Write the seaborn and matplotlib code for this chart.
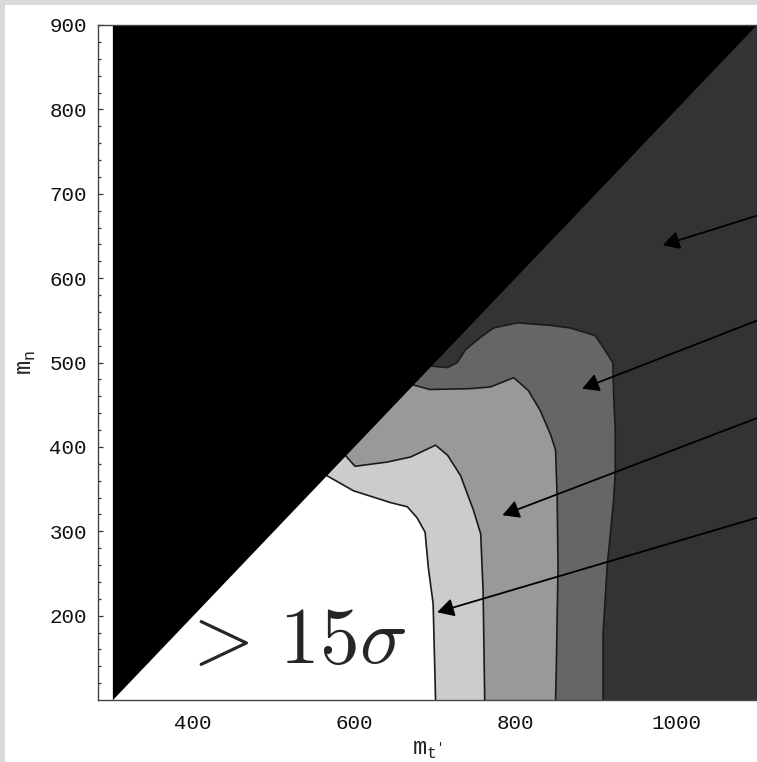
import matplotlib
matplotlib.use("Agg")
import matplotlib.pyplot as plt
import seaborn as sns
import pandas as pd
from matplotlib.patches import Rectangle

# ---- data ----
domain_x = [300, 1100]          # m_t' range of the scan
domain_y = [100, 900]           # m_n range of the scan

# contour boundaries (m_t', m_n), from the kinematic edge down to m_n = 100
c15_x = [564, 599, 645, 666, 678, 688, 692, 698, 701]          # 15 sigma
c15_y = [367, 348, 334, 329, 316, 299, 257, 214, 100]
c10_x = [588, 601, 641, 670, 701, 716, 732, 748, 757, 760, 762]  # next level
c10_y = [391, 377, 382, 388, 402, 390, 366, 325, 297, 230, 100]
c5_x = [671, 694, 744, 769, 798, 816, 831, 844, 850, 852, 853, 851, 850]
c5_y = [474, 468, 469, 471, 482, 467, 443, 414, 396, 337, 257, 143, 100]
c3_x = [693, 716, 728, 738, 757, 773, 803, 844, 868, 899, 909, 921, 922,
        924, 924, 922, 918, 914, 909, 909]
c3_y = [496, 494, 500, 515, 530, 541, 547, 544, 541, 532, 518, 500, 464,
        420, 369, 337, 297, 259, 179, 100]

region_colors = ["#333333", "#666666", "#999999", "#cccccc", "#ffffff"]

# arrows: (head x, head y, tail x, tail y)
arrow_head_x = [983, 883, 784, 703]
arrow_head_y = [639, 469, 319, 204]
arrow_tail_x = [1160, 1160, 1160, 1160]
arrow_tail_y = [692, 572, 456, 333]

xticks = [400, 600, 800, 1000]
yticks = [200, 300, 400, 500, 600, 700, 800, 900]

# ---- style ----
sns.set_style("ticks")
plt.rcParams["font.family"] = ["Liberation Mono", "DejaVu Sans Mono"]
plt.rcParams["mathtext.fontset"] = "custom"
plt.rcParams["mathtext.tt"] = "Liberation Mono"
plt.rcParams["mathtext.rm"] = "Liberation Mono"

fig = plt.figure(figsize=(7.57, 7.62), dpi=100, facecolor="#d9d9d9")
fig.patches.append(Rectangle((5 / 757, 0), 1, 757 / 762, transform=fig.transFigure,
                             facecolor="white", edgecolor="none", zorder=-10))
ax = fig.add_axes([98 / 757, 62 / 762, 1 - 98 / 757, (700 - 25) / 762])
ax.set_zorder(1)
ax.set_facecolor("white")
ax.set_axisbelow(True)

ax.set_xlim(282, domain_x[1])
ax.set_ylim(domain_y[0], domain_y[1])

# background (lowest level) over the whole scanned domain
ax.fill([domain_x[0], domain_x[1], domain_x[1], domain_x[0]],
        [domain_y[0], domain_y[0], domain_y[1], domain_y[1]],
        color=region_colors[0], lw=0, zorder=1)

contours = [(c3_x, c3_y), (c5_x, c5_y), (c10_x, c10_y), (c15_x, c15_y)]
for (cx, cy), col in zip(contours, region_colors[1:]):
    px = list(cx) + [domain_x[0], domain_x[0]]
    py = list(cy) + [domain_y[0], domain_y[1]]
    ax.fill(px, py, color=col, lw=0, zorder=1)

for cx, cy in contours:
    df = pd.DataFrame({"x": cx, "y": cy})
    sns.lineplot(data=df, x="x", y="y", sort=False, estimator=None, ax=ax,
                 color="#1a1a1a", lw=1.2, zorder=2)

# kinematically forbidden region m_n > m_t' - 200
ax.fill([domain_x[0], domain_x[0], domain_x[1]],
        [domain_y[0], domain_y[1], domain_y[1]], color="black", lw=0, zorder=3)

# annotation arrows coming in from the right
for hx, hy, tx, ty in zip(arrow_head_x, arrow_head_y, arrow_tail_x, arrow_tail_y):
    ax.annotate("", xy=(hx, hy), xytext=(tx, ty), annotation_clip=False,
                arrowprops=dict(arrowstyle="-|>,head_length=0.4,head_width=0.22",
                                mutation_scale=25, color="black", lw=1.3,
                                shrinkA=0, shrinkB=0), zorder=5)

ax.text(383, 144, r"$>\,15\sigma$", fontsize=57, math_fontfamily="cm",
        ha="left", va="baseline", zorder=6)

# axes / ticks
ax.set_xticks(xticks)
ax.set_yticks(yticks)
ax.set_yticks(range(120, 900, 20), minor=True)
ax.tick_params(axis="both", which="major", direction="in", labelsize=15,
               color="#333333", labelcolor="#111111")
ax.tick_params(axis="y", which="major", length=3.6, width=0.9, pad=8)
ax.tick_params(axis="y", which="minor", direction="in", length=2.4, width=0.9,
               color="#333333")
ax.tick_params(axis="x", which="major", length=0, pad=10)
for side in ["left", "bottom", "top"]:
    ax.spines[side].set_color("#444444")
    ax.spines[side].set_linewidth(1.0)
    ax.spines[side].set_zorder(4)
ax.spines["right"].set_visible(False)

ax.set_xlabel(r"$\mathtt{m}_{\mathtt{t}'}$", fontsize=17, labelpad=4)
ax.set_ylabel(r"$\mathtt{m}_{\mathtt{n}}$", fontsize=17, labelpad=8)

fig.savefig("out.png", dpi=100, facecolor=fig.get_facecolor())
